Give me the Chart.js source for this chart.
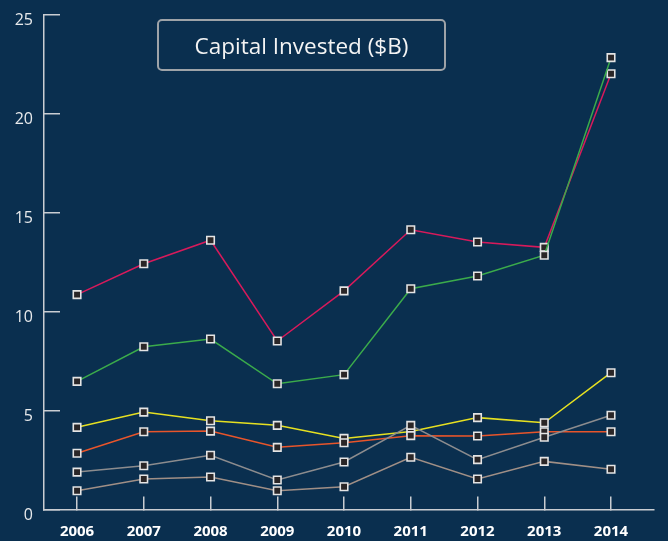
<!DOCTYPE html>
<html>
<head>
<meta charset="utf-8">
<title>Capital Invested ($B)</title>
<script src="https://cdn.jsdelivr.net/npm/chart.js@4.4.1/dist/chart.umd.min.js"></script>
<style>
    html, body { margin: 0; padding: 0; background: #0a2f4f; }
    #wrap { position: relative; width: 668px; height: 541px; }
    #title {
        position: absolute; left: 157px; top: 19px; width: 285px; height: 48px;
        border: 2px solid #9ea3a8; border-radius: 5px;
        color: #f4f4f4; font: 22.5px "Open Sans", sans-serif;
        display: flex; align-items: center; justify-content: center;
    }
</style>
</head>
<body>
<div id="wrap">
    <canvas id="myChart" width="668" height="541"></canvas>
    <div id="title">Capital Invested ($B)</div>
</div>
<script>
const YEARS = [2006, 2007, 2008, 2009, 2010, 2011, 2012, 2013, 2014];
const YEAR_LABELS = ['2006', '2007', '2008', '2009', '2010', '2011', '2012', '2013', '2014'];
const Y_TICKS = [0, 5, 10, 15, 20, 25];

const seriesPink   = [10.85, 12.41, 13.6, 8.51, 11.04, 14.13, 13.51, 13.24, 22.01];
const seriesGreen  = [6.47, 8.22, 8.61, 6.35, 6.81, 11.15, 11.79, 12.84, 22.82];
const seriesYellow = [4.15, 4.92, 4.48, 4.25, 3.59, 3.94, 4.64, 4.38, 6.91];
const seriesOrange = [2.84, 3.93, 3.96, 3.14, 3.37, 3.73, 3.71, 3.93, 3.93];
const seriesGray   = [1.89, 2.21, 2.74, 1.49, 2.40, 4.25, 2.52, 3.65, 4.76];
const seriesTan    = [0.95, 1.54, 1.64, 0.95, 1.15, 2.64, 1.54, 2.43, 2.03];

const AXIS_COLOR = '#c9cdd2';

function toPoints(values) {
    return values.map((v, i) => ({ x: YEARS[i], y: v }));
}

function line(values, color) {
    return {
        data: toPoints(values),
        borderColor: color,
        borderWidth: 1.5,
        tension: 0,
        pointStyle: 'rect',
        pointRadius: 5.3,
        pointHoverRadius: 5.3,
        pointBackgroundColor: '#2a2627',
        pointBorderColor: '#e4e4e4',
        pointBorderWidth: 1.6
    };
}

let ctx = document.getElementById('myChart').getContext('2d');

let chart = new Chart(ctx, {
    type: 'line',
    data: {
        datasets: [
            line(seriesTan, '#a08f86'),
            line(seriesGray, '#8c8c8e'),
            line(seriesOrange, '#e8552b'),
            line(seriesYellow, '#e6e021'),
            line(seriesGreen, '#3bab4b'),
            line(seriesPink, '#d71a5b')
        ]
    },
    options: {
        responsive: false,
        animation: false,
        events: [],
        layout: { padding: { top: 14.5, right: 14, left: 0, bottom: 0 } },
        plugins: {
            legend: { display: false },
            title: { display: false },
            tooltip: { enabled: false }
        },
        scales: {
            x: {
                type: 'linear',
                min: 2005.505,
                max: 2014.644,
                afterFit: (scale) => {
                    scale.height = 31.5;
                    scale.paddingLeft = 0;
                    scale.paddingRight = 0;
                },
                afterBuildTicks: (scale) => { scale.ticks = YEARS.map(v => ({ value: v })); },
                border: { color: AXIS_COLOR, width: 1.5 },
                grid: { drawOnChartArea: false, tickLength: -13, color: AXIS_COLOR, lineWidth: 1.5 },
                ticks: {
                    padding: 26,
                    color: '#ffffff',
                    font: { family: 'Open Sans', size: 15, weight: 'bold' },
                    callback: (value, index) => YEAR_LABELS[index]
                }
            },
            y: {
                min: 0,
                max: 25,
                afterFit: (scale) => {
                    scale.width = 44;
                    // the big tick padding would otherwise push the plot down
                    scale.paddingTop = 0;
                    scale.paddingBottom = 0;
                },
                afterBuildTicks: (scale) => { scale.ticks = Y_TICKS.map(v => ({ value: v })); },
                border: { color: AXIS_COLOR, width: 1.5 },
                grid: { drawOnChartArea: false, tickLength: -16, color: AXIS_COLOR, lineWidth: 1.5 },
                ticks: {
                    padding: 27,
                    labelOffset: 6,
                    color: '#e8eaec',
                    font: { family: 'Open Sans', size: 16 }
                }
            }
        }
    }
});
</script>
</body>
</html>
